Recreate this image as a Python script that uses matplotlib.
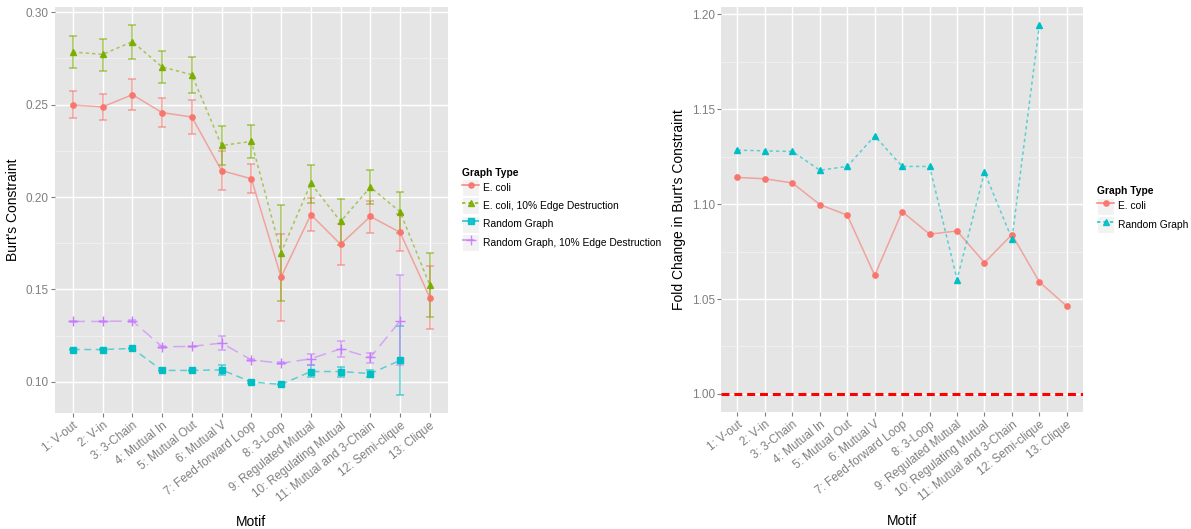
import numpy as np
import matplotlib
matplotlib.use("Agg")
import matplotlib.pyplot as plt
from matplotlib.lines import Line2D
from matplotlib.patches import Rectangle

plt.rcParams['font.family'] = ['Liberation Sans', 'DejaVu Sans']

nan = np.nan
motifs = ["1: V-out", "2: V-in", "3: 3-Chain", "4: Mutual In", "5: Mutual Out", "6: Mutual V",
          "7: Feed-forward Loop", "8: 3-Loop", "9: Regulated Mutual", "10: Regulating Mutual",
          "11: Mutual and 3-Chain", "12: Semi-clique", "13: Clique"]

# left panel: mean constraint, lower and upper error bar ends
ecoli = [0.2498, 0.2488, 0.2554, 0.2457, 0.2433, 0.2143, 0.2099, 0.1567, 0.1905, 0.1744, 0.1895, 0.1809, 0.1455]
ecoli_lo = [0.2430, 0.2415, 0.2471, 0.2377, 0.2339, 0.2036, 0.2022, 0.1332, 0.1816, 0.1632, 0.1808, 0.1709, 0.1285]
ecoli_hi = [0.2572, 0.2560, 0.2637, 0.2538, 0.2527, 0.2251, 0.2177, 0.1801, 0.1995, 0.1855, 0.1978, 0.1909, 0.1625]
ecoli10 = [0.2785, 0.2772, 0.2841, 0.2704, 0.2662, 0.2279, 0.2301, 0.1700, 0.2074, 0.1868, 0.2054, 0.1920, 0.1523]
ecoli10_lo = [0.2700, 0.2684, 0.2747, 0.2615, 0.2565, 0.2171, 0.2214, 0.1438, 0.1968, 0.1742, 0.1960, 0.1808, 0.1350]
ecoli10_hi = [0.2870, 0.2857, 0.2931, 0.2789, 0.2760, 0.2386, 0.2388, 0.1958, 0.2171, 0.1989, 0.2144, 0.2025, 0.1698]
rand = [0.1175, 0.1175, 0.1181, 0.1062, 0.1062, 0.1065, 0.1000, 0.0986, 0.1056, 0.1056, 0.1045, 0.1116, nan]
rand_lo = [0.1171, 0.1171, 0.1177, 0.1058, 0.1058, 0.1038, 0.0996, 0.0982, 0.1027, 0.1027, 0.1024, 0.0930, nan]
rand_hi = [0.1179, 0.1179, 0.1185, 0.1066, 0.1066, 0.1092, 0.1004, 0.0990, 0.1092, 0.1081, 0.1063, 0.1301, nan]
rand10 = [0.1327, 0.1327, 0.1330, 0.1190, 0.1192, 0.1210, 0.1119, 0.1101, 0.1125, 0.1179, 0.1132, 0.1330, nan]
rand10_lo = [0.1323, 0.1323, 0.1326, 0.1186, 0.1188, 0.1175, 0.1114, 0.1096, 0.1092, 0.1135, 0.1101, 0.1089, nan]
rand10_hi = [0.1331, 0.1331, 0.1334, 0.1194, 0.1196, 0.1247, 0.1124, 0.1106, 0.1152, 0.1220, 0.1155, 0.1576, nan]

# right panel: fold change
fold_ecoli = [1.1141, 1.1134, 1.1112, 1.0998, 1.0942, 1.0625, 1.0961, 1.0842, 1.0859, 1.0692, 1.0840, 1.0590, 1.0462]
fold_rand = [1.1285, 1.1281, 1.1278, 1.1179, 1.1199, 1.1360, 1.1199, 1.1199, 1.0603, 1.1169, 1.0817, 1.1944, nan]

RED, GREEN, CYAN, PURPLE = '#F8766D', '#7CAE00', '#00BFC4', '#C77CFF'
TXT = '#7F7F7F'
x = np.arange(1, len(motifs) + 1)

fig = plt.figure(figsize=(11.91, 5.29), dpi=100)
ax1 = fig.add_axes([55 / 1191, 1 - 413.3 / 529, 392.7 / 1191, 406.6 / 529])
ax2 = fig.add_axes([721 / 1191, 1 - 412.3 / 529, 362.3 / 1191, 405.6 / 529])


def gg_style(ax, majors, minors):
    ax.set_facecolor('#E5E5E5')
    for s in ax.spines.values():
        s.set_visible(False)
    ax.set_axisbelow(True)
    ax.set_yticks(majors)
    ax.set_yticks(minors, minor=True)
    ax.grid(True, which='major', color='white', linewidth=1.0)
    ax.grid(True, which='minor', axis='y', color='#F2F2F2', linewidth=0.6)
    ax.tick_params(which='major', colors=TXT, labelcolor=TXT, length=3, width=0.8,
                   labelsize=8.5, pad=1.5)
    ax.tick_params(which='minor', length=0)
    ax.set_xticks(x)
    ax.set_xticklabels(motifs, rotation=38, ha='right', va='top', rotation_mode='anchor')
    ax.set_xlim(0.4, 13.6)
    ax.set_xlabel('Motif', fontsize=10, color='black', labelpad=8)


def series(ax, y, lo, hi, color, marker, ms, dashes):
    y, lo, hi = np.array(y), np.array(lo), np.array(hi)
    ax.errorbar(x, y, yerr=[y - lo, hi - y], fmt='none', ecolor=color, alpha=0.55,
                elinewidth=1.3, capsize=3.2, capthick=1.3, zorder=2)
    ln, = ax.plot(x, y, color=color, lw=1.1, alpha=0.6, zorder=3)
    if dashes:
        ln.set_dashes(dashes)
    ax.plot(x, y, linestyle='none', marker=marker, ms=ms, color=color,
            mec=color, mew=1.0, zorder=4)


# left panel
gg_style(ax1, [0.10, 0.15, 0.20, 0.25, 0.30], [0.125, 0.175, 0.225, 0.275])
ax1.set_yticklabels(['0.10', '0.15', '0.20', '0.25', '0.30'])
series(ax1, ecoli, ecoli_lo, ecoli_hi, RED, 'o', 3.8, None)
series(ax1, ecoli10, ecoli10_lo, ecoli10_hi, GREEN, '^', 4.2, (2.2, 2.0))
series(ax1, rand, rand_lo, rand_hi, CYAN, 's', 4.0, (4.5, 3.0))
series(ax1, rand10, rand10_lo, rand10_hi, PURPLE, '+', 6.5, (8.0, 4.0))
ax1.set_ylim(0.083, 0.303)
ax1.set_ylabel("Burt's Constraint", fontsize=10, color='black', labelpad=4)

# right panel
gg_style(ax2, [1.00, 1.05, 1.10, 1.15, 1.20], [1.025, 1.075, 1.125, 1.175])
ax2.set_yticklabels(['1.00', '1.05', '1.10', '1.15', '1.20'])
ax2.axhline(1.0, color='red', lw=2.2, dashes=(2.6, 1.6), zorder=2)
ln, = ax2.plot(x, fold_ecoli, color=RED, lw=1.1, alpha=0.6, zorder=3)
ax2.plot(x, fold_ecoli, 'o', ms=3.8, color=RED, zorder=4)
ln, = ax2.plot(x, fold_rand, color=CYAN, lw=1.1, alpha=0.6, zorder=3)
ln.set_dashes((2.2, 2.0))
ax2.plot(x, fold_rand, '^', ms=4.2, color=CYAN, zorder=4)
ax2.set_ylim(0.9903, 1.2041)
ax2.set_ylabel("Fold Change in Burt's Constraint", fontsize=10, color='black', labelpad=4)


def key(color, marker, ms, dashes):
    box = Rectangle((0, 0), 1, 1, facecolor='#F2F2F2', edgecolor='white', lw=0.8)
    ln = Line2D([], [], color=color, lw=1.1, marker=marker, ms=ms, mec=color, alpha=0.9)
    if dashes:
        ln.set_dashes(dashes)
    return (box, ln)


leg_kw = dict(loc='upper left', frameon=False, fontsize=7.4, title='Graph Type',
              title_fontproperties={'weight': 'bold', 'size': 7.4}, alignment='left',
              handlelength=1.68, handleheight=2.2, labelspacing=0.1, handletextpad=0.35,
              borderpad=0, borderaxespad=0)

fig.legend([key(RED, 'o', 3.8, None), key(GREEN, '^', 4.2, (2.2, 2.0)),
            key(CYAN, 's', 4.0, (4.5, 3.0)), key(PURPLE, '+', 6.5, (8.0, 4.0))],
           ['E. coli', 'E. coli, 10% Edge Destruction', 'Random Graph',
            'Random Graph, 10% Edge Destruction'],
           bbox_to_anchor=(462 / 1191, 1 - 168 / 529), **leg_kw)

fig.legend([key(RED, 'o', 3.8, None), key(CYAN, '^', 4.2, (2.2, 2.0))],
           ['E. coli', 'Random Graph'],
           bbox_to_anchor=(1097 / 1191, 1 - 186.5 / 529), **leg_kw)

fig.savefig('out.png', dpi=100)
